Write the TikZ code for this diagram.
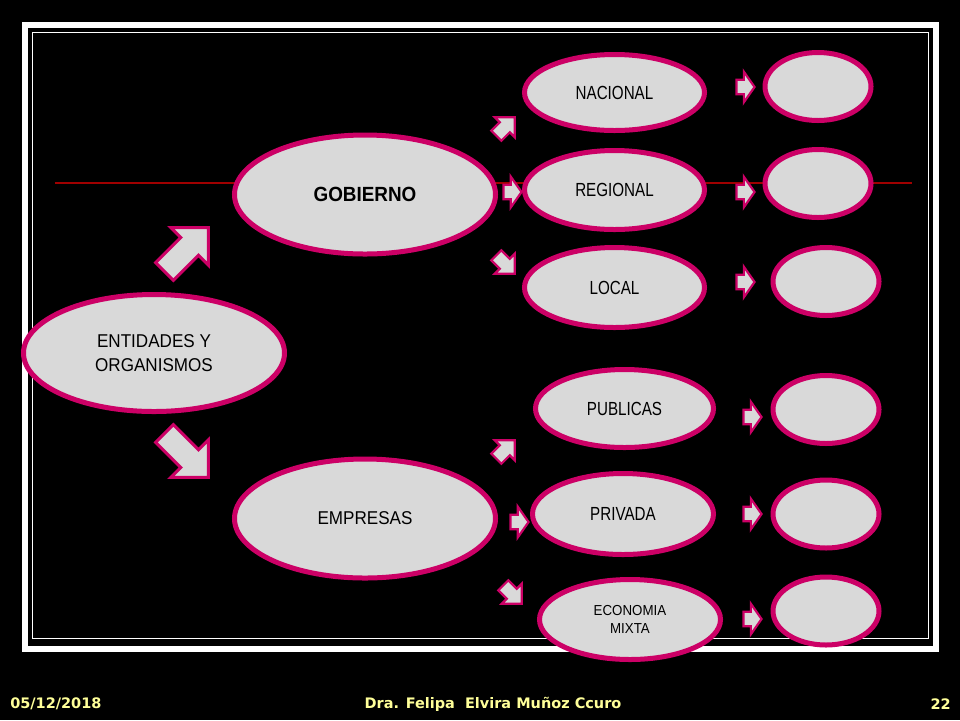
\documentclass[tikz,border=0pt]{standalone}
\usepackage{fontspec}
\setmainfont{Liberation Sans}
\newfontfamily\narrowfont[FakeStretch=0.8]{Liberation Sans}
\newfontfamily\semifont[FakeStretch=0.92]{Liberation Sans}
\newfontfamily\footfont{DejaVu Sans}
\usetikzlibrary{positioning,shapes.geometric,shapes.arrows}
\definecolor{rim}{RGB}{204,0,102}
\definecolor{disc}{RGB}{217,217,217}
\definecolor{guide}{RGB}{160,0,0}
\definecolor{footer}{RGB}{255,255,153}

\begin{document}
\begin{tikzpicture}[x=0.25mm, y=-0.25mm,
  big/.style={ellipse, draw=rim, fill=disc, line width=1.25mm, minimum width=65.25mm, minimum height=29.75mm, align=center, inner sep=0pt, font=\semifont\fontsize{13.2}{17}\selectfont},
  mid/.style={ellipse, draw=rim, fill=disc, line width=1.25mm, minimum width=45mm, minimum height=19.75mm, align=center, inner sep=0pt, font=\narrowfont\fontsize{13.5}{16}\selectfont},
  blank/.style={ellipse, draw=rim, fill=disc, line width=1.25mm, minimum width=26.5mm, minimum height=17mm},
  bigarrow/.style={single arrow, draw=rim, fill=disc, line width=0.75mm, inner xsep=0pt, inner ysep=2.75mm, single arrow head extend=3.5mm, single arrow tip angle=90, minimum height=15.5mm},
  smallarrow/.style={single arrow, draw=rim, fill=disc, line width=0.55mm, inner xsep=0pt, inner ysep=1.55mm, single arrow head extend=2mm, single arrow tip angle=110, minimum height=4.5mm},
  diagarrow/.style={single arrow, draw=rim, fill=disc, line width=0.55mm, inner xsep=0pt, inner ysep=1.5mm, single arrow head extend=1.75mm, single arrow tip angle=90, minimum height=6.5mm},
  foot/.style={text=footer, font=\footfont\bfseries\fontsize{10.3}{12}\selectfont, inner sep=0pt}]
\useasboundingbox (0,0) rectangle (960,720);
\fill[black] (0,0) rectangle (960,720);
% Frame
\draw[white, line width=1.5mm] (24.5,24.5) rectangle (935.5,648.5);
\draw[white, line width=0.4mm] (32.5,32.5) rectangle (928.5,638.5);
\coordinate (guideL) at (55,183);
\coordinate (guideR) at (912,183);
\draw[guide, line width=0.3mm] (guideL) -- (guideR);

% Root
\node[big, minimum height=29.25mm] (root) at (154,353) {ENTIDADES Y\\ORGANISMOS};
% Level 1
\node[big, font=\semifont\bfseries\fontsize{14.6}{17}\selectfont] (gob) at (365,194.5) {GOBIERNO};
\node[big] (emp) at (365,518.5) {EMPRESAS};
% Level 2
\node[mid, minimum height=19mm] (nac) at (614.5,92.5) {NACIONAL};
\node[mid] (reg) at (614.5,190) {REGIONAL};
\node[mid, minimum height=20mm] (loc) at (614.5,287.5) {LOCAL};
\node[mid, minimum width=44.5mm, minimum height=19.5mm] (pub) at (624.5,408.5) {PUBLICAS};
\node[mid, minimum width=45.25mm, minimum height=20.25mm] (pri) at (623,514) {PRIVADA};
\node[mid, minimum width=45.25mm, minimum height=20mm, font=\semifont\fontsize{10.3}{12.8}\selectfont] (eco) at (630,619.5) {ECONOMIA\\MIXTA};
% Level 3
\node[blank] (nacx) at (818,86.5) {};
\node[blank] (regx) at (818,183.5) {};
\node[blank] (locx) at (826,281.5) {};
\node[blank] (pubx) at (826,409.5) {};
\node[blank] (prix) at (826,514) {};
\node[blank] (ecox) at (826,611) {};

% Arrows
\node[bigarrow, rotate=45] (up) at (182,254) {};
\node[bigarrow, rotate=-45] (down) at (182,451) {};
\node[diagarrow, rotate=45] (gob1) at (503,129) {};
\node[smallarrow] (gob2) at (510,192) {};
\node[diagarrow, rotate=-45] (gob3) at (503,262) {};
\node[diagarrow, rotate=45] (emp1) at (503,452) {};
\node[smallarrow] (emp2) at (517,522) {};
\node[diagarrow, rotate=-45] (emp3) at (510,592) {};
\node[smallarrow] (nac1) at (743,87) {};
\node[smallarrow] (reg1) at (743,192) {};
\node[smallarrow] (loc1) at (743,282) {};
\node[smallarrow] (pub1) at (750,417) {};
\node[smallarrow] (pri1) at (750,514) {};
\node[smallarrow] (eco1) at (750,619) {};

% Footer
\node[foot, anchor=west] (date) at (10,704) {05/12/2018};
\node[foot] (author) at (493,704) {Dra. Felipa\ \ Elvira Muñoz Ccuro};
\node[foot, anchor=east] (page) at (951,704) {22};
\end{tikzpicture}
\end{document}
